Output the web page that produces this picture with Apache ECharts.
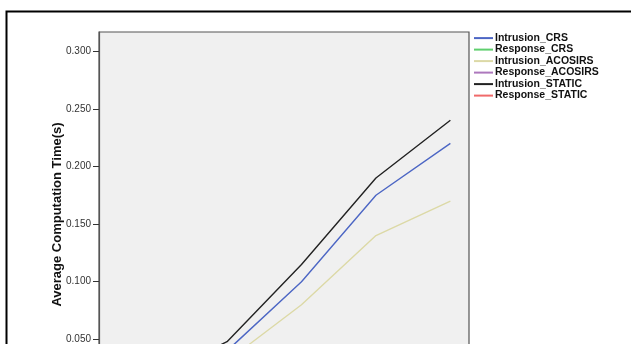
<!DOCTYPE html>
<html>
<head>
<meta charset="utf-8">
<script src="https://cdn.jsdelivr.net/npm/echarts@6/dist/echarts.min.js"></script>
<style>
  html, body { margin: 0; padding: 0; background: #fff; overflow: hidden; }
  #chart { width: 631px; height: 460px; }
</style>
</head>
<body>
<div id="chart"></div>
<script>
// Measurement steps along the x axis
const steps = [1, 2, 3, 4, 5];

// Average computation time (seconds) per scheme
const intrusionCRS     = [0.012, 0.040, 0.100, 0.175, 0.220];
const responseCRS      = [0.004, 0.008, 0.012, 0.016, 0.020];
const intrusionACOSIRS = [0.010, 0.031, 0.080, 0.140, 0.170];
const responseACOSIRS  = [0.003, 0.006, 0.009, 0.012, 0.015];
const intrusionSTATIC  = [0.016, 0.048, 0.115, 0.190, 0.240];
const responseSTATIC   = [0.005, 0.010, 0.014, 0.018, 0.022];

const seriesNames = [
  'Intrusion_CRS', 'Response_CRS', 'Intrusion_ACOSIRS',
  'Response_ACOSIRS', 'Intrusion_STATIC', 'Response_STATIC'
];
const seriesValues = [
  intrusionCRS, responseCRS, intrusionACOSIRS,
  responseACOSIRS, intrusionSTATIC, responseSTATIC
];
const seriesColors = ['#4c66c4', '#5fcf6e', '#dcd9a6', '#ad78bd', '#222222', '#f06a6a'];

// Y tick labels
const yTicks = [0.000, 0.050, 0.100, 0.150, 0.200, 0.250, 0.300];

const chart = echarts.init(document.getElementById('chart'), null, { renderer: 'canvas' });

const font = '"Liberation Sans", Arial, sans-serif';

chart.setOption({
  animation: false,
  backgroundColor: '#ffffff',
  graphic: [{
    type: 'rect',
    z: -10,
    left: 4,
    top: 9,
    shape: { width: 900, height: 700 },
    style: { fill: 'none', stroke: '#000', lineWidth: 2 }
  }],
  grid: {
    left: 99, top: 32, width: 370, height: 365,
    show: true,
    backgroundColor: '#f0f0f0',
    borderColor: '#555',
    borderWidth: 1.2
  },
  legend: {
    orient: 'vertical',
    left: 474,
    top: 32.6,
    padding: 0,
    itemGap: 0.5,
    itemWidth: 19,
    itemHeight: 2,
    icon: 'rect',
    textStyle: {
      fontFamily: font, fontSize: 10.5, fontWeight: 'bold',
      color: '#111', lineHeight: 11, padding: [0, 0, 0, -3]
    },
    data: seriesNames
  },
  xAxis: {
    type: 'value',
    min: 0.28,
    max: 5.25,
    splitLine: { show: false },
    axisLine: { lineStyle: { color: '#555' } },
    axisLabel: { fontFamily: font, fontSize: 10, color: '#333' }
  },
  yAxis: {
    type: 'value',
    min: 0,
    max: 0.3166,
    interval: 0.05,
    name: 'Average Computation Time(s)',
    nameLocation: 'middle',
    nameGap: 35,
    nameMoveOverlap: false,
    nameTextStyle: { fontFamily: font, fontSize: 13, fontWeight: 'bold', color: '#111' },
    splitLine: { show: false },
    axisLine: { show: true, lineStyle: { color: '#555', width: 1.2 } },
    axisTick: { show: true, length: 6, customValues: yTicks, lineStyle: { color: '#333' } },
    axisLabel: {
      customValues: yTicks,
      margin: 8,
      fontFamily: font, fontSize: 10, color: '#333',
      formatter: v => v.toFixed(3)
    }
  },
  series: seriesNames.map((name, i) => ({
    name: name,
    type: 'line',
    symbol: 'none',
    color: seriesColors[i],
    lineStyle: { width: 1.4, color: seriesColors[i] },
    data: steps.map((x, j) => [x, seriesValues[i][j]])
  }))
});
</script>
</body>
</html>
